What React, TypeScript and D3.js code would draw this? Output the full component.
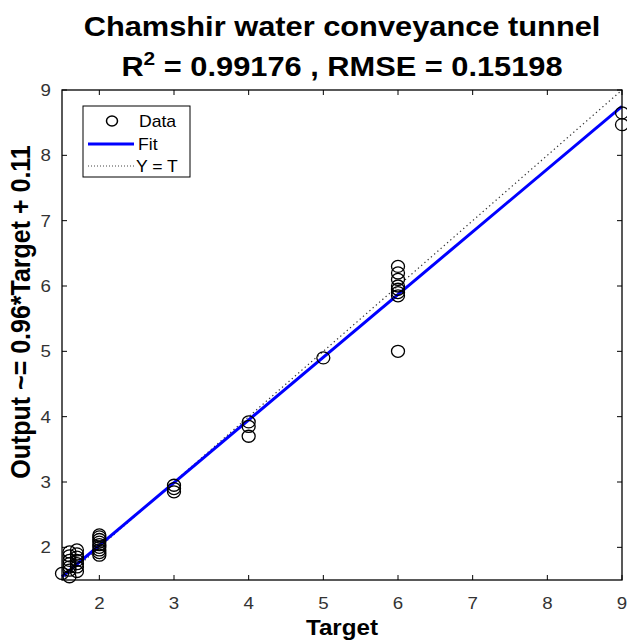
import React from 'react';
import * as d3 from 'd3';

const width = 627;
const height = 641;
const margin = { top: 90, right: 5, bottom: 61, left: 62 };

// data: [target, output]
const targets = [
  1.5,
  1.6, 1.6, 1.6, 1.6, 1.6, 1.6, 1.6,
  1.7, 1.7, 1.7, 1.7, 1.7, 1.7, 1.7,
  2, 2, 2, 2, 2, 2, 2, 2, 2,
  3, 3, 3,
  4, 4, 4,
  5,
  6, 6, 6, 6, 6, 6, 6, 6,
  9, 9,
];
const outputs = [
  1.6,
  1.55, 1.65, 1.7, 1.75, 1.8, 1.87, 1.93,
  1.63, 1.7, 1.75, 1.8, 1.85, 1.9, 1.96,
  1.88, 1.92, 1.96, 2.0, 2.04, 2.08, 2.12, 2.16, 2.19,
  2.85, 2.9, 2.95,
  3.7, 3.85, 3.92,
  4.9,
  5.0, 5.85, 5.9, 5.95, 6.0, 6.1, 6.2, 6.3,
  8.47, 8.65,
];
const tickValues = [2, 3, 4, 5, 6, 7, 8, 9];
const domain = [1.5, 9];
const slope = 0.96;
const intercept = 0.11;

const font = 'Liberation Sans, Arial, sans-serif';
const sx = 1.1; // the picture's text is a little wider than it is tall

function T(props: any) {
  const { x, y, children, ...rest } = props;
  return (
    <text transform={`translate(${x}, ${y}) scale(${sx}, 1)`} {...rest}>
      {children}
    </text>
  );
}

export default function App() {
  const x = d3.scaleLinear().domain(domain).range([margin.left, width - margin.right]);
  const y = d3.scaleLinear().domain(domain).range([height - margin.bottom, margin.top]);
  const [x0, x1] = x.range();
  const [y0, y1] = y.range();

  const line = d3.line<[number, number]>().x(d => x(d[0])).y(d => y(d[1]));
  const fitPts: [number, number][] = domain.map(t => [t, slope * t + intercept]);
  const idPts: [number, number][] = domain.map(t => [t, t]);

  const tl = 5;
  const cx = (x0 + x1) / 2;

  return (
    <svg width={width} height={height} style={{ position: 'absolute', left: 0, top: 0, background: '#fff' }}>
      <rect x={0} y={0} width={width} height={height} fill="#fff" />
      <g fontFamily={font}>
        <T x={cx} y={36} textAnchor="middle" fontWeight="bold" fontSize={28}>
          Chamshir water conveyance tunnel
        </T>
        <T x={cx} y={76} textAnchor="middle" fontWeight="bold" fontSize={28}>
          R<tspan dy={-11} fontSize={19}>2</tspan><tspan dy={11}> = 0.99176 , RMSE = 0.15198</tspan>
        </T>

        <path d={line(idPts) || ''} fill="none" stroke="#333" strokeWidth={1.2} strokeDasharray="1.3,3" />
        <path d={line(fitPts) || ''} fill="none" stroke="#0000ff" strokeWidth={3} />

        {targets.map((t, i) => (
          <ellipse key={i} cx={x(t)} cy={y(outputs[i])} rx={6.5} ry={6} fill="none" stroke="#000" strokeWidth={1.3} />
        ))}

        <rect x={x0} y={y1} width={x1 - x0} height={y0 - y1} fill="none" stroke="#000" strokeWidth={1.3} />

        {tickValues.map(v => (
          <g key={'x' + v}>
            <line x1={x(v)} x2={x(v)} y1={y0} y2={y0 - tl} stroke="#000" />
            <line x1={x(v)} x2={x(v)} y1={y1} y2={y1 + tl} stroke="#000" />
            <T x={x(v)} y={y0 + 29} textAnchor="middle" fontSize={17} fill="#333">{v}</T>
          </g>
        ))}
        {tickValues.map(v => (
          <g key={'y' + v}>
            <line x1={x0} x2={x0 + tl} y1={y(v)} y2={y(v)} stroke="#000" />
            <line x1={x1} x2={x1 - tl} y1={y(v)} y2={y(v)} stroke="#000" />
            <T x={x0 - 11} y={y(v) + 6} textAnchor="end" fontSize={17} fill="#333">{v}</T>
          </g>
        ))}

        <T x={cx} y={635} textAnchor="middle" fontWeight="bold" fontSize={22}>Target</T>
        <text transform={`translate(30, 312) scale(${sx}, 1) rotate(-90)`} textAnchor="middle" fontWeight="bold" fontSize={25}>
          Output ~= 0.96*Target + 0.11
        </text>

        <g>
          <rect x={83} y={106} width={107} height={71} fill="#fff" stroke="#000" strokeWidth={1} />
          <ellipse cx={112} cy={121} rx={5.5} ry={5} fill="none" stroke="#000" strokeWidth={1.5} />
          <T x={139} y={127} fontSize={16}>Data</T>
          <line x1={88} x2={134} y1={144} y2={144} stroke="#0000ff" strokeWidth={3} />
          <T x={138} y={150} fontSize={16}>Fit</T>
          <line x1={88} x2={134} y1={166} y2={166} stroke="#444" strokeWidth={1} strokeDasharray="1,2" />
          <T x={136} y={172} fontSize={16}>Y = T</T>
        </g>
      </g>
    </svg>
  );
}
